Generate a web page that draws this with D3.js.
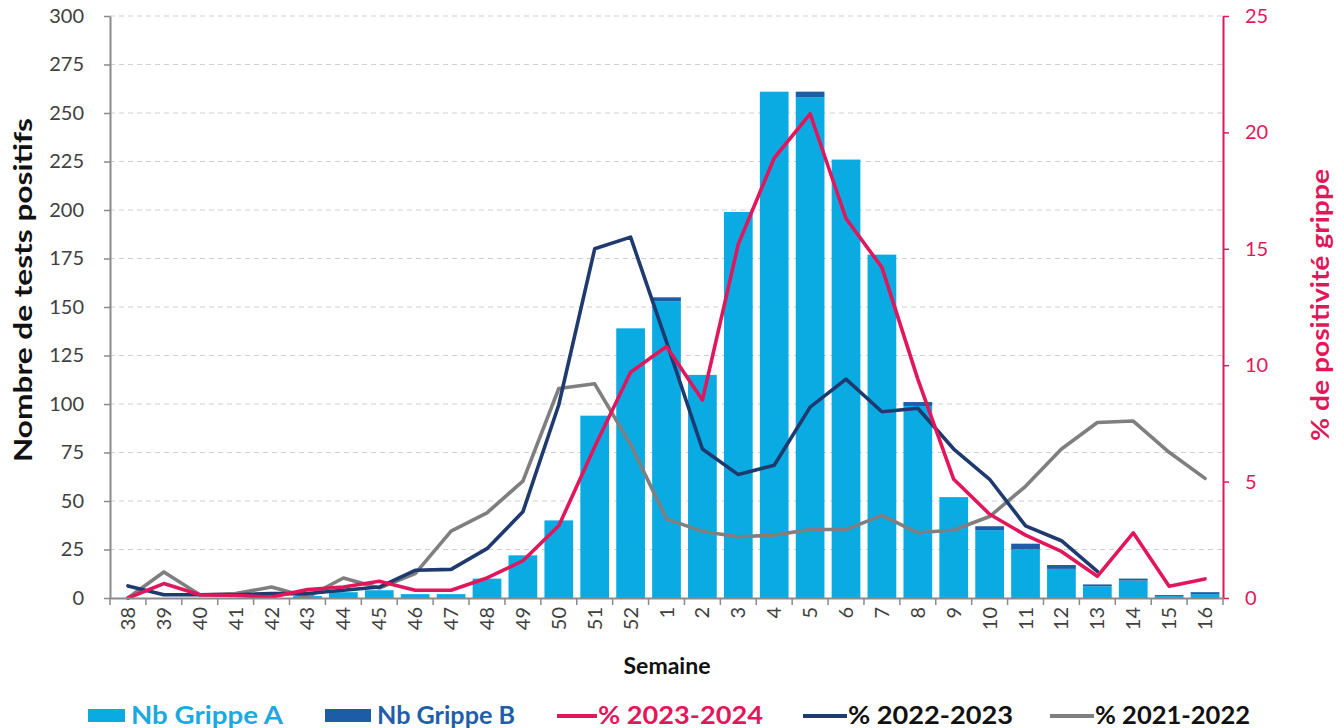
<!DOCTYPE html>
<html><head><meta charset="utf-8">
<script src="https://cdn.jsdelivr.net/npm/d3@7"></script>
<style>
body{margin:0;background:#fff;}
svg{display:block;font-family:Lato,"Open Sans",sans-serif;}
</style></head>
<body>
<svg id="c" width="1336" height="728"></svg>
<script>
const weeks = ["38","39","40","41","42","43","44","45","46","47","48","49","50","51","52","1","2","3","4","5","6","7","8","9","10","11","12","13","14","15","16"];
const grippeA = [0,0,0,0,0,1,3,4,2,2,10,22,40,94,139,153,115,199,261,258,226,177,99,52,35,25,15,6,9,1,2];
const grippeB = [0,0,0,0,0,0,0,0,0,0,0,0,0,0,0,2,0,0,0,3,0,0,2,0,2,3,2,1,1,0.5,1];
const pct2324 = [0,0.62,0.14,0.11,0.04,0.36,0.47,0.72,0.33,0.33,0.86,1.6,3.1,6.5,9.7,10.8,8.5,15.2,18.9,20.8,16.3,14.2,9.4,5.1,3.6,2.7,2.0,0.93,2.8,0.5,0.82];
const pct2223 = [0.52,0.14,0.14,0.14,0.19,0.19,0.33,0.47,1.19,1.23,2.12,3.7,8.3,15.0,15.5,11.0,6.4,5.3,5.7,8.2,9.4,8.0,8.15,6.4,5.1,3.1,2.46,1.14,null,null,null];
const pct2122 = [0,1.12,0.14,0.19,0.47,0.04,0.86,0.43,1.05,2.87,3.66,5.02,9.0,9.2,6.6,3.4,2.86,2.63,2.7,2.94,2.94,3.55,2.8,2.92,3.5,4.8,6.4,7.54,7.6,6.26,5.14];
const leftTicks = [0,25,50,75,100,125,150,175,200,225,250,275,300];
const rightTicks = [0,5,10,15,20,25];

const C = {A:"#0aabe3", B:"#1d5ca6", red:"#e2175b", navy:"#1f3a6e", gray:"#7f7f7f", axis:"#8a8a8a", txt:"#404040"};
const svg = d3.select("#c");
const L=110, R=1223, T=16, B=598;

const x = d3.scaleBand().domain(weeks).range([L,R]).paddingInner(0.2).paddingOuter(0.1);
const yL = d3.scaleLinear().domain([0,300]).range([B,T]);
const yR = d3.scaleLinear().domain([0,25]).range([B,T]);

// gridlines
svg.append("g").selectAll("line").data(leftTicks.filter(d=>d>0)).join("line")
  .attr("x1",L).attr("x2",R).attr("y1",d=>yL(d)).attr("y2",d=>yL(d))
  .attr("stroke","#cfcfcf").attr("stroke-width",1).attr("stroke-dasharray","5,4");

// bars
const data = weeks.map((w,i)=>({w,a:grippeA[i],b:grippeB[i]}));
const gb = svg.append("g");
gb.selectAll("rect.a").data(data).join("rect").attr("class","a")
  .attr("x",d=>x(d.w)).attr("width",x.bandwidth())
  .attr("y",d=>yL(d.a)).attr("height",d=>yL(0)-yL(d.a)).attr("fill",C.A);
gb.selectAll("rect.b").data(data).join("rect").attr("class","b")
  .attr("x",d=>x(d.w)).attr("width",x.bandwidth())
  .attr("y",d=>yL(d.a+d.b)).attr("height",d=>yL(d.a)-yL(d.a+d.b)).attr("fill",C.B);

// lines
const cx = w => x(w)+x.bandwidth()/2;
function drawLine(arr,color){
  const line = d3.line().defined(d=>d[1]!=null).x(d=>cx(d[0])).y(d=>yR(d[1]));
  svg.append("path").datum(weeks.map((w,i)=>[w,arr[i]]))
    .attr("d",line).attr("fill","none").attr("stroke",color).attr("stroke-width",3.6)
    .attr("stroke-linejoin","round").attr("stroke-linecap","round");
}
drawLine(pct2122,C.gray);
drawLine(pct2223,C.navy);
drawLine(pct2324,C.red);

// left axis
const ax = svg.append("g").attr("transform",`translate(${L},0)`)
  .call(d3.axisLeft(yL).tickValues(leftTicks).tickSize(6).tickSizeOuter(0).tickPadding(20));
ax.select(".domain").attr("stroke",C.axis).attr("stroke-width",2);
ax.selectAll(".tick line").attr("stroke",C.axis).attr("stroke-width",1.5);
ax.selectAll("text").attr("font-size",20).attr("fill",C.txt).attr("font-family","Lato");

// right axis
const ar = svg.append("g").attr("transform",`translate(${R},0)`)
  .call(d3.axisRight(yR).tickValues(rightTicks).tickSize(6).tickSizeOuter(0).tickPadding(16));
ar.select(".domain").attr("stroke",C.red).attr("stroke-width",2);
ar.selectAll(".tick line").attr("stroke",C.red).attr("stroke-width",1.5);
ar.selectAll("text").attr("font-size",20).attr("fill",C.red).attr("font-family","Lato");

// x axis
const axb = svg.append("g").attr("transform",`translate(0,${B})`)
  .call(d3.axisBottom(x).tickSize(0).tickSizeOuter(0).tickPadding(0));
axb.select(".domain").attr("stroke",C.axis).attr("stroke-width",2);
axb.selectAll(".tick text").attr("font-size",20).attr("fill",C.txt).attr("font-family","Lato")
  .attr("text-anchor","end").attr("dy","0.35em")
  .attr("transform","translate(0,9) rotate(-90)");
const bounds = d3.range(weeks.length+1).map(i=>L + i*(R-L)/weeks.length);
svg.append("g").selectAll("line").data(bounds).join("line")
  .attr("x1",d=>d).attr("x2",d=>d).attr("y1",B).attr("y2",B+7)
  .attr("stroke",C.axis).attr("stroke-width",1.5);

// titles
svg.append("text").attr("x",667).attr("y",674).attr("text-anchor","middle")
  .attr("font-size",23).attr("font-weight","bold").attr("fill","#111")
  .attr("textLength",87).attr("lengthAdjust","spacingAndGlyphs").text("Semaine");
svg.append("text").attr("transform","translate(32,290) rotate(-90)").attr("text-anchor","middle")
  .attr("font-size",24).attr("font-weight","bold").attr("fill","#111")
  .attr("textLength",344).attr("lengthAdjust","spacingAndGlyphs").text("Nombre de tests positifs");
svg.append("text").attr("transform","translate(1329,305) rotate(-90)").attr("text-anchor","middle")
  .attr("font-size",24).attr("font-weight","bold").attr("fill",C.red)
  .attr("textLength",272).attr("lengthAdjust","spacingAndGlyphs").text("% de positivité grippe");

// legend
const legend = [
  {t:"Nb Grippe A", type:"rect", c:C.A, tc:"#1aa9e0", s:88, ts:131, te:283},
  {t:"Nb Grippe B", type:"rect", c:C.B, tc:"#1f5ea8", s:325, ts:377, te:515},
  {t:"% 2023-2024", type:"line", c:C.red, tc:C.red, s:557, ts:598, te:763},
  {t:"% 2022-2023", type:"line", c:C.navy, tc:"#111", s:803, ts:848, te:1013},
  {t:"% 2021-2022", type:"line", c:C.gray, tc:"#111", s:1050, ts:1095, te:1250}
];
const lg = svg.append("g");
legend.forEach(d=>{
  if(d.type==="rect"){
    lg.append("rect").attr("x",d.s).attr("y",709).attr("width",d.ts-d.s-6).attr("height",13).attr("fill",d.c);
  } else {
    lg.append("line").attr("x1",d.s).attr("x2",d.ts-1).attr("y1",716).attr("y2",716)
      .attr("stroke",d.c).attr("stroke-width",4);
  }
  lg.append("text").attr("x",d.ts).attr("y",724).attr("font-size",24).attr("font-weight","bold")
    .attr("fill",d.tc).attr("textLength",d.te-d.ts).attr("lengthAdjust","spacingAndGlyphs").text(d.t);
});
</script>
</body></html>
